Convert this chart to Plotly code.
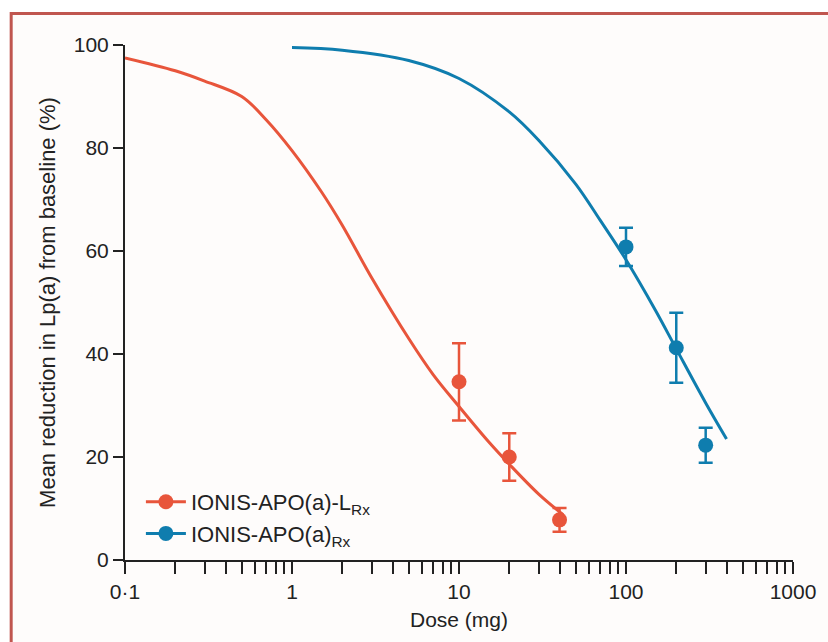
import plotly.graph_objects as go

# ---- data ----
lrx_dose = [10, 20, 40]
lrx_mean = [34.6, 20.0, 7.8]
lrx_err = [7.5, 4.6, 2.3]

rx_dose = [100, 200, 300]
rx_mean = [60.8, 41.2, 22.3]
rx_err = [3.7, 6.8, 3.4]

lrx_fit_dose = [0.1, 0.2, 0.3, 0.5, 0.7, 1.0, 1.5, 2.0, 3.0, 5.0, 7.0, 10, 15, 20, 30, 42]
lrx_fit_val = [97.5, 95.0, 93.0, 90.0, 85.5, 79.5, 71.5, 65.0, 54.8, 43.0, 36.0, 29.8, 23.0, 18.6, 12.8, 8.8]

rx_fit_dose = [1, 2, 5, 10, 20, 30, 50, 70, 100, 150, 200, 300, 400]
rx_fit_val = [99.5, 99.0, 97.0, 93.5, 87.0, 81.5, 73.0, 66.0, 58.3, 48.5, 41.0, 30.5, 23.5]

x_major_vals = [0.1, 1, 10, 100, 1000]
x_major_text = ["0·1", "1", "10", "100", "1000"]
x_minor_vals = [0.2, 0.3, 0.4, 0.5, 0.6, 0.7, 0.8, 0.9,
                2, 3, 4, 5, 6, 7, 8, 9,
                20, 30, 40, 50, 60, 70, 80, 90,
                200, 300, 400, 500, 600, 700, 800, 900]
y_tick_vals = [0, 20, 40, 60, 80, 100]

series_names = ["IONIS-APO(a)-L<sub>Rx</sub>", "IONIS-APO(a)<sub>Rx</sub>"]

ORANGE = "#e8553b"
BLUE = "#0f7dae"
INK = "#222222"
FONT = "Liberation Sans, Arial, sans-serif"

fig = go.Figure()

# fitted curves
fig.add_trace(go.Scatter(x=lrx_fit_dose, y=lrx_fit_val, mode="lines",
                         line=dict(color=ORANGE, width=3, shape="spline"),
                         showlegend=False, hoverinfo="skip"))
fig.add_trace(go.Scatter(x=rx_fit_dose, y=rx_fit_val, mode="lines",
                         line=dict(color=BLUE, width=3, shape="spline"),
                         showlegend=False, hoverinfo="skip"))

# observed means with error bars
fig.add_trace(go.Scatter(x=lrx_dose, y=lrx_mean, mode="markers",
                         marker=dict(color=ORANGE, size=15), showlegend=False,
                         error_y=dict(type="data", array=lrx_err, color=ORANGE,
                                      thickness=2.5, width=7)))
fig.add_trace(go.Scatter(x=rx_dose, y=rx_mean, mode="markers",
                         marker=dict(color=BLUE, size=15), showlegend=False,
                         error_y=dict(type="data", array=rx_err, color=BLUE,
                                      thickness=2.5, width=7)))

# legend entries (line + marker symbol)
for name, col in zip(series_names, [ORANGE, BLUE]):
    fig.add_trace(go.Scatter(x=[None], y=[None], mode="lines+markers", name=name,
                             line=dict(color=col, width=3),
                             marker=dict(color=col, size=15)))

L, R, T, B = 125, 31, 45, 82
W, H = 828, 642
pw, ph = W - L - R, H - T - B

def px_x(px):
    return (px - L) / pw

def px_y(py):
    return (H - B - py) / ph

fig.update_layout(
    width=W, height=H,
    margin=dict(l=L, r=R, t=T, b=B, pad=0),
    paper_bgcolor="white",
    plot_bgcolor="rgba(0,0,0,0)",
    font=dict(family=FONT, size=21, color=INK),
    showlegend=True,
    legend=dict(x=px_x(141), y=px_y(481), xanchor="left", yanchor="top",
                bgcolor="rgba(0,0,0,0)", font=dict(size=22, color=INK),
                itemwidth=40, tracegroupgap=0),
    xaxis=dict(type="log", range=[-1, 3],
               tickmode="array", tickvals=x_major_vals, ticktext=x_major_text,
               ticks="outside", ticklen=12, tickwidth=2, tickcolor=INK,
               minor=dict(tickmode="array", tickvals=x_minor_vals,
                          ticks="outside", ticklen=12, tickwidth=2,
                          tickcolor=INK, showgrid=False),
               showline=True, linecolor=INK, linewidth=2,
               showgrid=False, zeroline=False,
               title=dict(text="Dose (mg)", font=dict(size=21), standoff=10),
               tickfont=dict(size=21)),
    yaxis=dict(range=[0, 100], tickvals=y_tick_vals,
               ticks="outside", ticklen=10, tickwidth=2, tickcolor=INK,
               showline=True, linecolor=INK, linewidth=2,
               showgrid=False, zeroline=False,
               title=dict(text="Mean reduction in Lp(a) from baseline (%)",
                          font=dict(size=22), standoff=12),
               tickfont=dict(size=21)),
    shapes=[dict(type="rect", xref="paper", yref="paper", layer="below",
                 x0=px_x(10.5), x1=px_x(845), y0=px_y(660), y1=px_y(13.5),
                 line=dict(color="#c0564f", width=3), fillcolor="#fefcfb")],
)

fig.write_html("out.html")
